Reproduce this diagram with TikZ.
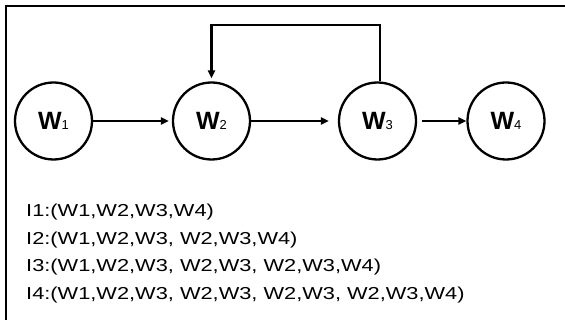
\documentclass[tikz,border=0pt]{standalone}
\usepackage{fontspec}
\usetikzlibrary{arrows.meta}
\newfontfamily\wfont{Liberation Sans}
\newfontfamily\listfont[FakeStretch=1.26]{Liberation Sans}
\newcommand{\wlab}[1]{{\wfont\fontsize{25}{26}\selectfont\bfseries W}{\wfont\fontsize{13}{14}\selectfont #1}}
\begin{document}
\begin{tikzpicture}[x=1pt,y=-1pt,
  state/.style={circle,draw,line width=2.3pt,minimum size=77pt,inner sep=0pt},
  flow/.style={line width=2.3pt,-{Triangle[length=8pt,width=7pt]}},
  listtext/.style={anchor=base west,inner sep=0pt,font=\listfont\fontsize{17.3}{20}\selectfont}]
\useasboundingbox (0,0) rectangle (565,320);
% frame (top and left edges)
\draw[line width=2.3pt] (565,6) -- (6,6) -- (6,320);
% states
\node[state] (w1) at (53.5,121) {\wlab{1}};
\node[state] (w2) at (211.5,121) {\wlab{2}};
\node[state] (w3) at (377.5,121) {\wlab{3}};
\node[state] (w4) at (506,121) {\wlab{4}};
% forward transitions
\draw[flow,shorten >=3pt] (w1) -- (w2);
\draw[flow,shorten >=9pt] (w2) -- (w3);
\draw[flow,shorten <=5pt] (w3) -- (w4);
% loop back from w3 to w2
\coordinate (fb) at (380,25);
\draw[flow,shorten >=3pt] (w3.north -| fb) -- (fb) -| (w2.north);
% iteration sequences
\node[listtext] (i1) at (26,216.5) {I1:(W1,W2,W3,W4)};
\node[listtext] (i2) at (26,244.2) {I2:(W1,W2,W3, W2,W3,W4)};
\node[listtext] (i3) at (26,271.9) {I3:(W1,W2,W3, W2,W3, W2,W3,W4)};
\node[listtext] (i4) at (26,299.6) {I4:(W1,W2,W3, W2,W3, W2,W3, W2,W3,W4)};
\end{tikzpicture}
\end{document}
